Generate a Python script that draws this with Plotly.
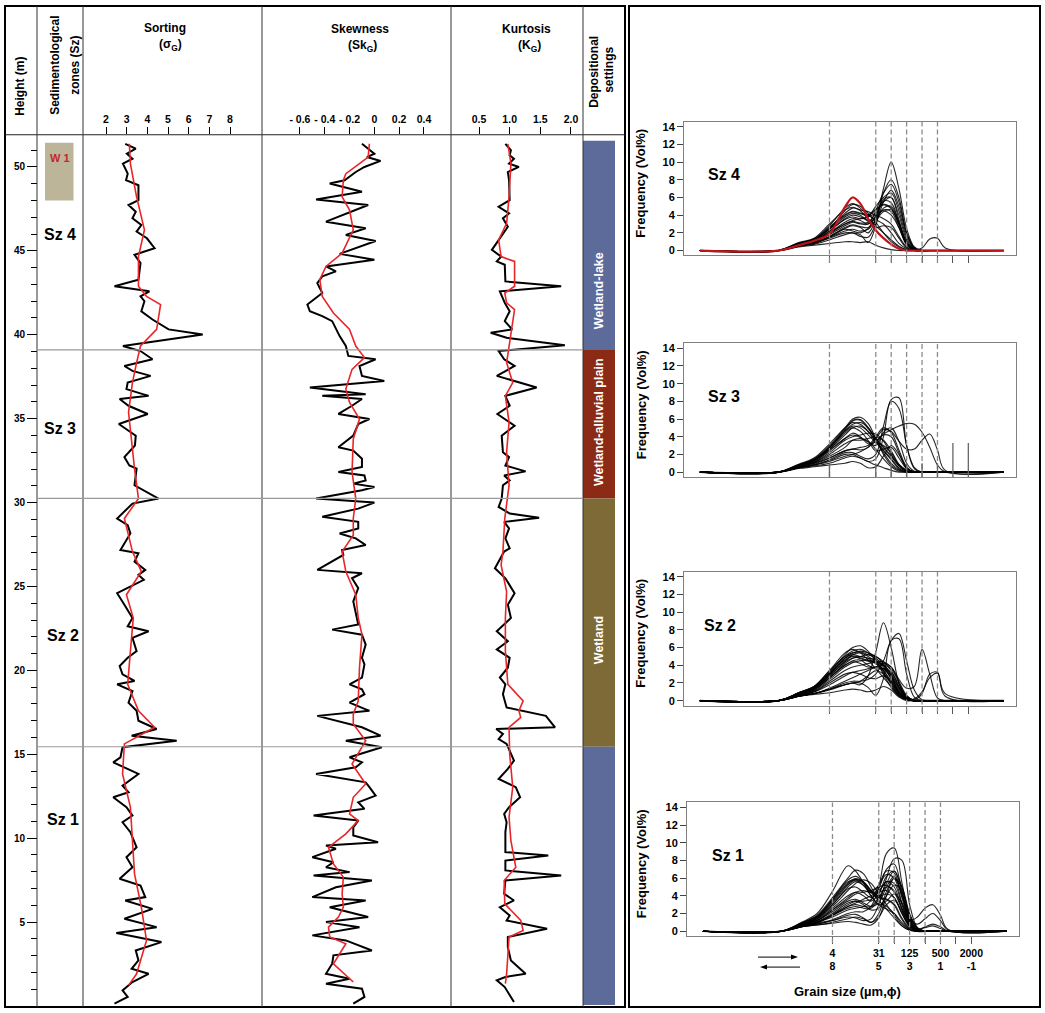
import plotly.graph_objects as go

W, H = 1045, 1013

# ---------------------------------------------------------------------------
# Left log: height (m) vs grain-size parameters (black = samples, red = trend)
# ---------------------------------------------------------------------------
sort_h = [51.38, 51.09, 50.79, 50.49, 50.20, 49.60, 49.21, 48.91, 48.02, 47.73,
          47.33, 46.94, 46.54, 46.15, 45.75, 45.16, 44.76, 44.27, 43.28, 42.89,
          42.59, 42.29, 42.00, 41.40, 40.91, 40.32, 40.02, 39.33, 39.03, 38.54,
          38.14, 37.85, 37.55, 37.15, 36.76, 36.36, 36.17, 35.77, 35.28, 34.68,
          33.99, 33.40, 32.71, 32.21, 32.02, 31.03, 30.24, 29.94, 29.05, 28.66,
          28.16, 27.77, 27.17, 26.98, 26.48, 25.99, 25.69, 25.40, 24.60, 23.91,
          23.12, 22.63, 22.33, 21.94, 21.15, 20.75, 20.26, 19.76, 19.37, 19.17,
          18.77, 18.08, 17.59, 17.00, 16.51, 16.11, 15.81, 15.42, 14.82, 14.52,
          13.83, 13.13, 12.74, 12.44, 11.85, 11.35, 10.95, 10.36, 9.46, 8.87,
          8.27, 7.58, 7.18, 6.49, 6.29, 5.79, 5.20, 4.70, 4.35, 3.81,
          3.31, 2.72, 2.22, 1.92, 1.43, 0.93, 0.54, 0.14]
sort_v = [2.93, 3.44, 3.01, 3.28, 2.82, 3.05, 2.97, 3.57, 3.57, 3.09,
          3.44, 3.28, 3.71, 3.48, 3.98, 4.35, 3.38, 3.67, 3.57, 2.41,
          4.10, 3.67, 3.86, 3.71, 4.25, 5.03, 6.68, 2.82, 3.67, 4.25,
          2.89, 3.28, 4.16, 3.05, 2.99, 4.06, 2.66, 3.09, 4.02, 2.62,
          3.44, 3.40, 2.89, 3.13, 3.48, 3.38, 4.54, 3.28, 2.54, 3.05,
          3.18, 2.99, 2.70, 3.57, 3.38, 3.90, 3.57, 3.83, 2.54, 2.89,
          3.28, 3.05, 4.06, 3.28, 3.48, 3.05, 2.66, 2.80, 3.38, 2.54,
          3.28, 3.09, 3.48, 3.57, 4.45, 3.24, 5.42, 2.80, 2.70, 2.35,
          3.57, 2.80, 3.09, 2.35, 2.99, 3.28, 2.80, 3.18, 3.48, 2.99,
          3.28, 2.66, 3.67, 3.90, 2.93, 4.25, 2.89, 4.45, 2.50, 4.68,
          3.44, 3.57, 3.24, 4.06, 3.28, 2.80, 3.05, 2.41]
sort_red_h = [51.38, 50.20, 48.22, 46.25, 44.66, 42.89, 42.29, 41.80, 40.32, 39.33,
              38.34, 37.15, 35.38, 32.02, 30.24, 29.05, 27.08, 25.89, 24.51, 23.12,
              21.15, 19.17, 17.59, 16.61, 15.62, 13.83, 11.85, 9.86, 7.88, 5.89,
              3.91, 1.92, 1.23]
sort_red_v = [3.13, 3.18, 3.48, 3.86, 3.57, 3.57, 3.96, 4.64, 4.45, 3.67,
              3.48, 3.28, 3.09, 3.38, 3.57, 2.89, 3.28, 3.71, 2.99, 3.32,
              3.18, 3.05, 3.57, 4.35, 2.89, 2.80, 3.18, 3.28, 3.38, 3.71,
              3.96, 3.48, 3.09]

skew_h = [51.38, 50.79, 50.59, 50.36, 50.00, 49.70, 49.21, 49.01, 48.52, 48.06,
          47.73, 47.13, 46.74, 46.35, 45.95, 45.59, 44.82, 44.47, 44.07, 43.78,
          43.48, 43.08, 42.49, 41.80, 41.40, 41.11, 40.81, 39.92, 39.33, 38.74,
          38.54, 38.14, 37.55, 37.25, 36.86, 36.46, 36.36, 36.17, 35.77, 35.28,
          34.98, 34.68, 33.99, 33.30, 33.10, 32.61, 32.12, 31.82, 31.62, 31.32,
          31.13, 30.93, 30.73, 30.24, 30.00, 29.64, 29.15, 28.85, 28.46, 28.16,
          27.87, 27.47, 27.17, 26.88, 25.99, 25.79, 25.49, 24.90, 24.11, 22.73,
          22.43, 22.13, 21.54, 20.75, 20.36, 19.57, 19.17, 18.87, 18.58, 18.08,
          17.59, 17.29, 16.61, 16.11, 15.81, 15.42, 14.82, 14.52, 14.23, 13.83,
          13.33, 13.04, 12.54, 12.14, 11.75, 11.35, 11.05, 10.65, 10.16, 9.76,
          9.56, 9.37, 8.87, 8.57, 8.27, 7.98, 7.78, 7.48, 7.08, 6.49,
          6.29, 5.89, 5.30, 5.00, 4.70, 4.21, 3.91, 3.31, 3.02, 2.52,
          1.92, 1.63, 1.33, 1.03, 0.54, 0.14]
skew_v = [-0.10, 0.00, -0.06, 0.05, -0.08, -0.15, -0.24, -0.36, -0.10, -0.47,
          -0.05, -0.26, -0.39, -0.07, -0.23, 0.01, -0.28, 0.00, -0.39, -0.31,
          -0.42, -0.46, -0.42, -0.54, -0.52, -0.42, -0.34, -0.28, -0.23, -0.21,
          0.01, -0.12, -0.10, 0.08, -0.52, -0.07, -0.42, -0.10, -0.18, -0.29,
          -0.04, -0.13, -0.17, -0.29, -0.17, -0.10, -0.10, -0.29, -0.08, -0.07,
          -0.17, 0.00, -0.10, -0.47, 0.00, -0.13, -0.42, -0.13, -0.13, -0.28,
          -0.15, -0.07, -0.26, -0.25, -0.46, -0.10, -0.18, -0.13, -0.17, -0.13,
          -0.34, -0.10, -0.07, -0.10, -0.08, -0.10, -0.20, -0.10, -0.08, -0.20,
          -0.04, -0.46, -0.10, 0.05, -0.23, 0.06, -0.20, -0.10, -0.15, -0.47,
          -0.07, -0.04, 0.01, -0.13, -0.08, -0.49, -0.13, -0.17, -0.17, 0.03,
          -0.39, -0.31, -0.50, -0.33, -0.39, -0.20, -0.49, -0.02, -0.31, -0.50,
          -0.07, -0.36, -0.05, -0.39, -0.12, -0.50, -0.23, -0.02, -0.33, -0.34,
          -0.39, -0.20, -0.39, -0.10, -0.08, -0.17]
skew_red_h = [51.38, 50.59, 50.20, 49.60, 49.21, 48.22, 47.43, 46.25, 44.86, 44.07,
              43.28, 42.29, 41.30, 40.32, 39.33, 38.64, 37.94, 36.76, 35.97, 34.98,
              33.79, 31.82, 30.24, 29.05, 28.06, 27.08, 25.89, 24.51, 23.12, 22.13,
              20.16, 18.18, 17.39, 16.81, 15.81, 14.42, 13.23, 12.44, 11.45, 11.05,
              10.26, 9.46, 8.47, 7.68, 6.69, 5.89, 5.30, 4.70, 4.11, 3.71,
              2.52, 1.43]
skew_red_v = [-0.04, -0.05, -0.12, -0.23, -0.25, -0.26, -0.20, -0.17, -0.26, -0.39,
              -0.44, -0.42, -0.33, -0.20, -0.15, -0.08, -0.18, -0.23, -0.20, -0.12,
              -0.17, -0.18, -0.15, -0.17, -0.17, -0.26, -0.23, -0.15, -0.13, -0.10,
              -0.12, -0.13, -0.17, -0.17, -0.07, -0.18, -0.07, -0.17, -0.20, -0.13,
              -0.23, -0.37, -0.33, -0.25, -0.26, -0.25, -0.29, -0.37, -0.36, -0.23,
              -0.33, -0.17]

kurt_h = [51.38, 50.99, 50.69, 50.49, 50.20, 50.00, 49.70, 49.21, 48.02, 47.63,
          47.23, 46.94, 46.44, 45.06, 44.66, 44.37, 44.17, 43.18, 42.89, 42.59,
          41.90, 41.40, 40.81, 40.32, 40.12, 39.82, 39.37, 39.03, 38.54, 38.14,
          37.55, 36.86, 36.36, 35.77, 35.28, 34.58, 33.99, 33.00, 32.71, 32.21,
          31.86, 31.62, 31.32, 31.03, 30.24, 29.74, 29.35, 29.09, 28.85, 28.46,
          27.87, 27.27, 27.08, 26.48, 26.09, 25.49, 24.60, 23.91, 23.12, 22.33,
          21.74, 21.25, 20.75, 20.16, 19.57, 19.17, 18.58, 17.79, 17.29, 16.61,
          16.51, 16.21, 15.91, 15.62, 14.62, 14.13, 13.53, 13.04, 12.44, 11.85,
          11.45, 10.95, 10.36, 9.17, 8.97, 8.67, 8.08, 7.78, 7.48, 6.69,
          6.29, 5.89, 5.40, 5.10, 4.60, 4.11, 3.51, 2.72, 1.92, 1.73,
          1.53, 1.13, 0.24]
kurt_v = [0.93, 1.02, 1.00, 1.07, 0.99, 1.15, 0.97, 0.99, 1.00, 0.82,
          0.99, 0.89, 0.97, 0.71, 0.86, 0.79, 0.92, 0.93, 1.84, 0.84,
          0.92, 1.00, 0.92, 1.04, 0.69, 0.95, 1.90, 0.82, 0.91, 1.08,
          0.79, 1.44, 0.93, 1.00, 0.80, 1.08, 0.87, 0.89, 0.99, 0.93,
          1.26, 0.91, 1.00, 0.89, 0.87, 0.82, 1.00, 1.48, 0.91, 0.99,
          0.93, 1.00, 0.91, 0.82, 0.76, 0.93, 1.08, 0.97, 1.02, 0.79,
          0.97, 0.79, 1.00, 0.97, 0.84, 0.93, 0.89, 0.95, 1.59, 1.74,
          0.78, 0.89, 0.82, 0.95, 1.07, 0.97, 0.82, 1.10, 1.17, 0.99,
          0.91, 0.95, 0.93, 0.93, 1.63, 0.93, 0.93, 1.84, 0.93, 0.91,
          1.07, 0.84, 1.00, 0.95, 1.61, 0.97, 0.97, 1.02, 1.26, 0.93,
          0.79, 0.92, 1.07]
kurt_red_h = [51.38, 50.20, 48.22, 46.64, 45.65, 44.66, 44.37, 42.89, 42.49, 41.90,
              41.50, 39.92, 39.13, 38.34, 37.15, 36.36, 34.78, 33.00, 31.03, 29.05,
              27.08, 26.28, 24.70, 23.12, 21.15, 19.17, 18.18, 17.59, 17.20, 16.61,
              15.02, 13.04, 11.25, 9.86, 8.27, 7.48, 6.09, 5.10, 4.50, 4.11,
              1.92, 1.33]
kurt_red_v = [0.97, 1.02, 0.99, 0.95, 0.82, 0.86, 1.08, 1.08, 0.92, 0.95,
              1.08, 1.02, 0.99, 0.95, 1.05, 0.93, 0.99, 0.95, 0.99, 0.92,
              0.89, 0.86, 0.95, 0.93, 0.93, 0.97, 1.22, 1.15, 1.18, 0.99,
              1.00, 1.05, 0.99, 1.02, 1.10, 0.91, 0.92, 1.18, 1.22, 0.99,
              0.95, 0.93]

sort_ticks = [2, 3, 4, 5, 6, 7, 8]
skew_ticks = [-0.6, -0.4, -0.2, 0, 0.2, 0.4]
skew_tick_text = ['- 0.6', '- 0.4', '- 0.2', '0', '0.2', '0.4']
kurt_ticks = [0.5, 1.0, 1.5, 2.0]
kurt_tick_text = ['0.5', '1.0', '1.5', '2.0']

# zones / depositional settings (height limits in m)
zone_names = ['Sz 4', 'Sz 3', 'Sz 2', 'Sz 1']
zone_label_h = [46.0, 34.4, 22.1, 11.1]
zone_bounds = [39.1, 30.25, 15.45]
setting_top = [51.56, 39.1, 30.25, 15.45]
setting_bottom = [39.1, 30.25, 15.45, 0.06]
setting_colors = ['#5D6B9B', '#8B2B16', '#7E6A37', '#5D6B9B']
setting_names = ['Wetland-lake', 'Wetland-alluvial plain', 'Wetland', '']
setting_label_h = [42.6, 34.8, 21.8, 7.0]
w1_bottom, w1_top = 48.0, 51.45

# ---------------------------------------------------------------------------
# Right: grain-size distribution curves, x in phi units, y = Vol%
# ---------------------------------------------------------------------------
phi = [16.4, 11.3, 10.0, 9.0, 8.0, 7.0, 6.5, 6.0, 5.5, 5.0,
       4.5, 4.0, 3.5, 3.0, 2.5, 2.0, 1.5, 1.0, 0.5, -3.3]

sz4_curves = [
    [0, 0, 0.7, 1.2, 2.5, 4.5, 5.2, 5.0, 4.2, 3.2, 2.0, 1.0, 0.4, 0.1, 0, 0, 0, 0, 0, 0],
    [0, 0, 0.8, 1.3, 2.8, 4.8, 5.3, 4.8, 4.0, 3.5, 3.0, 2.0, 0.8, 0.2, 0, 0, 0, 0, 0, 0],
    [0, 0, 0.5, 0.8, 1.5, 2.5, 2.8, 2.6, 2.0, 3.5, 7.0, 10.0, 7.0, 2.5, 0.4, 0, 0, 0, 0, 0],
    [0, 0, 0.6, 1.0, 1.8, 2.8, 3.2, 3.0, 3.0, 4.5, 6.5, 7.5, 5.5, 2.0, 0.3, 0, 0, 0, 0, 0],
    [0, 0, 0.7, 1.1, 2.2, 3.5, 3.8, 3.6, 3.8, 5.0, 6.0, 6.5, 4.5, 1.5, 0.2, 0, 0, 0, 0, 0],
    [0, 0, 0.6, 0.9, 1.6, 2.4, 2.2, 2.0, 2.5, 4.0, 5.5, 6.0, 4.0, 1.2, 0.2, 0, 0, 0, 0, 0],
    [0, 0, 0.8, 1.2, 2.6, 4.0, 4.4, 4.2, 4.0, 4.6, 5.2, 4.8, 3.0, 0.8, 0.1, 0, 0, 0, 0, 0],
    [0, 0, 0.5, 0.7, 1.2, 1.8, 2.0, 1.6, 1.5, 3.0, 5.5, 6.8, 5.0, 1.8, 0.3, 0, 0, 0, 0, 0],
    [0, 0, 0.4, 0.6, 0.8, 1.0, 1.0, 0.9, 1.0, 0.6, 0.3, 0.1, 0, 0, 0, 0, 0, 0, 0, 0],
    [0, 0, 0.7, 1.0, 2.0, 3.2, 3.6, 3.4, 3.0, 3.8, 5.8, 6.0, 3.5, 0.8, 0.1, 0, 0, 0, 0, 0],
    [0, 0, 0.6, 0.9, 1.5, 2.2, 2.4, 2.2, 2.4, 3.5, 4.8, 5.0, 3.2, 1.0, 0.2, 0.3, 1.3, 1.4, 0.3, 0],
    [0, 0, 0.9, 1.4, 3.0, 4.6, 4.9, 4.5, 3.6, 2.8, 2.0, 1.2, 0.5, 0.1, 0, 0, 0, 0, 0, 0],
    [0, 0, 0.7, 1.0, 2.0, 3.0, 3.4, 3.6, 3.8, 4.2, 4.5, 4.0, 2.6, 0.8, 0.1, 0, 0, 0, 0, 0],
    [0, 0, 0.5, 0.8, 1.4, 2.0, 2.0, 1.8, 0.9, 2.8, 6.5, 8.0, 6.0, 2.0, 0.3, 0, 0, 0, 0, 0],
    [0, 0, 0.6, 0.9, 1.6, 2.6, 2.9, 2.7, 2.6, 3.4, 4.4, 4.6, 3.0, 0.9, 0.1, 0, 0, 0, 0, 0],
    [0, 0, 0.8, 1.3, 2.4, 3.8, 4.2, 4.0, 3.3, 2.6, 2.8, 2.6, 1.4, 0.3, 0, 0, 0, 0, 0, 0],
    [0, 0, 0.7, 1.1, 2.2, 3.6, 4.0, 3.8, 3.4, 3.6, 4.6, 4.4, 2.6, 0.6, 0, 0, 0, 0, 0, 0],
    [0, 0, 0.6, 1.0, 1.9, 3.0, 3.3, 3.1, 3.2, 4.2, 5.6, 5.4, 3.2, 0.8, 0.1, 0, 0, 0, 0, 0],
    [0, 0, 0.8, 1.2, 2.4, 4.2, 4.8, 4.6, 4.4, 4.0, 3.6, 3.0, 1.6, 0.4, 0, 0, 0, 0, 0, 0],
]
sz4_red = [0, 0, 0.6, 1.1, 1.9, 4.9, 6.0, 5.3, 3.6, 2.3, 1.4, 0.7, 0.2, 0, 0, 0, 0, 0, 0, 0]

sz3_curves = [
    [0, 0, 0.8, 1.5, 3.0, 5.0, 6.0, 6.2, 5.5, 3.8, 2.0, 0.8, 0.2, 0, 0, 0, 0, 0, 0, 0],
    [0, 0, 0.7, 1.3, 2.8, 4.6, 5.4, 5.6, 5.0, 3.6, 2.2, 1.0, 0.3, 0, 0, 0, 0, 0, 0, 0],
    [0, 0, 0.9, 1.6, 3.2, 5.0, 5.6, 5.4, 4.6, 3.5, 2.5, 1.5, 0.5, 0.1, 0, 0, 0, 0, 0, 0],
    [0, 0, 0.6, 1.1, 2.2, 3.6, 4.0, 4.2, 4.4, 4.3, 3.5, 2.0, 0.7, 0.1, 0, 0, 0, 0, 0, 0],
    [0, 0, 0.7, 1.2, 2.5, 3.8, 4.2, 3.9, 3.4, 3.0, 4.5, 5.0, 3.5, 1.0, 0.1, 0, 0, 0, 0, 0],
    [0, 0, 0.5, 0.8, 1.3, 2.0, 2.0, 1.6, 1.2, 1.5, 4.0, 8.2, 8.4, 3.0, 0.4, 0, 0, 0, 0, 0],
    [0, 0, 0.5, 0.8, 1.2, 1.8, 2.0, 2.3, 2.8, 3.5, 4.3, 4.8, 5.2, 5.5, 5.4, 4.5, 2.8, 0.8, 0, 0],
    [0, 0, 0.6, 1.0, 1.6, 2.4, 2.6, 2.5, 2.8, 3.8, 4.8, 4.6, 3.5, 2.6, 2.6, 3.6, 4.3, 2.5, 0.2, 0],
    [0, 0, 0.8, 1.4, 2.8, 4.8, 5.8, 5.9, 5.0, 3.8, 2.8, 1.8, 0.8, 0.2, 0, 0, 0, 0, 0, 0],
    [0, 0, 0.6, 1.0, 1.8, 2.8, 3.6, 3.8, 3.5, 2.6, 1.5, 0.6, 0.1, 0, 0, 0, 0, 0, 0, 0],
    [0, 0, 0.5, 0.7, 1.0, 1.6, 1.8, 1.6, 1.2, 0.8, 0.5, 0.2, 0, 0, 0, 0, 0, 0, 0, 0],
    [0, 0, 0.4, 0.6, 0.8, 1.0, 1.2, 1.0, 0.5, 0.6, 1.8, 3.0, 2.0, 0.4, 0, 0, 0, 0, 0, 0],
    [0, 0, 0.7, 1.2, 2.4, 3.8, 4.4, 4.0, 3.2, 3.4, 4.2, 4.0, 2.2, 0.5, 0, 0, 0, 0, 0, 0],
    [0, 0, 0.8, 1.4, 2.6, 4.4, 5.0, 4.6, 3.6, 2.4, 2.6, 2.8, 1.6, 0.4, 0, 0, 0, 0, 0, 0],
    [0, 0, 0.5, 0.9, 1.6, 2.4, 2.6, 2.8, 3.0, 4.0, 5.0, 4.5, 2.5, 0.6, 0, 0, 0, 0, 0, 0],
    [0, 0, 0.5, 0.8, 1.4, 2.2, 2.2, 1.8, 1.5, 2.0, 5.2, 8.0, 7.2, 3.0, 0.5, 0, 0, 0, 0, 0],
    [0, 0, 0.7, 1.3, 2.6, 4.2, 5.0, 5.2, 4.6, 3.4, 2.4, 1.4, 0.4, 0, 0, 0, 0, 0, 0, 0],
    [0, 0, 0.8, 1.4, 2.8, 4.6, 5.2, 5.0, 4.2, 3.4, 3.0, 2.2, 0.8, 0.1, 0, 0, 0, 0, 0, 0],
    [0, 0, 0.6, 1.1, 2.0, 3.2, 3.6, 3.6, 3.8, 4.0, 3.6, 2.4, 0.9, 0.1, 0, 0, 0, 0, 0, 0],
]

sz2_curves = [
    [0, 0, 0.8, 1.5, 3.2, 5.2, 6.0, 6.2, 5.6, 4.5, 3.0, 1.5, 0.5, 0.1, 0, 0, 0, 0, 0, 0],
    [0, 0, 0.9, 1.6, 3.4, 5.0, 5.4, 5.5, 5.2, 4.8, 4.0, 2.4, 0.8, 0.2, 0, 0, 0, 0, 0, 0],
    [0, 0, 0.7, 1.3, 2.8, 4.4, 4.8, 5.0, 5.2, 5.0, 4.2, 2.8, 1.0, 0.2, 0, 0, 0, 0, 0, 0],
    [0, 0, 0.8, 1.4, 3.0, 4.6, 5.0, 4.8, 4.5, 4.4, 4.0, 3.0, 1.4, 0.3, 0, 0, 0, 0, 0, 0],
    [0, 0, 0.6, 1.1, 2.4, 3.8, 4.3, 4.5, 4.6, 4.2, 3.4, 2.2, 0.9, 0.2, 0, 0, 0, 0, 0, 0],
    [0, 0, 0.7, 1.2, 2.6, 4.0, 4.5, 4.6, 4.0, 3.6, 3.6, 3.2, 1.8, 0.5, 0, 0, 0, 0, 0, 0],
    [0, 0, 0.5, 0.8, 1.2, 1.8, 2.0, 1.8, 2.8, 5.5, 8.8, 6.0, 2.0, 0.3, 0, 0, 0, 0, 0, 0],
    [0, 0, 0.5, 0.8, 1.3, 1.8, 2.0, 2.0, 1.5, 0.6, 2.5, 6.8, 7.0, 3.0, 0.4, 0, 0, 0, 0, 0],
    [0, 0, 0.5, 0.8, 1.3, 2.0, 2.2, 2.2, 2.4, 3.0, 4.5, 6.8, 7.6, 4.5, 1.2, 0.1, 0, 0, 0, 0],
    [0, 0, 0.5, 0.8, 1.4, 2.2, 2.6, 3.0, 3.4, 3.8, 4.2, 3.8, 2.4, 1.4, 1.6, 5.8, 3.0, 0.3, 0, 0],
    [0, 0, 0.6, 1.0, 1.8, 2.8, 3.2, 3.4, 3.6, 3.8, 3.6, 2.8, 1.5, 0.4, 0.1, 0.8, 3.0, 3.2, 0.5, 0],
    [0, 0, 0.5, 0.8, 1.3, 1.8, 2.0, 2.2, 2.8, 3.4, 3.0, 2.0, 0.8, 0.2, 0.2, 1.0, 2.6, 3.1, 0.8, 0],
    [0, 0, 0.5, 0.7, 0.9, 1.2, 1.3, 1.2, 1.0, 1.2, 1.6, 1.2, 0.4, 0, 0, 0, 0, 0, 0, 0],
    [0, 0, 0.9, 1.6, 3.4, 5.4, 5.8, 5.4, 4.6, 3.6, 2.6, 1.6, 0.6, 0.1, 0, 0, 0, 0, 0, 0],
    [0, 0, 0.6, 1.0, 2.0, 3.0, 3.2, 3.0, 2.6, 2.5, 2.8, 2.2, 1.0, 0.2, 0, 0, 0, 0, 0, 0],
    [0, 0, 0.8, 1.4, 2.8, 4.4, 5.2, 5.4, 5.0, 4.4, 3.2, 1.8, 0.6, 0.1, 0, 0, 0, 0, 0, 0],
    [0, 0, 0.7, 1.3, 2.6, 4.0, 4.4, 4.2, 3.8, 3.8, 4.0, 3.6, 2.0, 0.5, 0, 0, 0, 0, 0, 0],
    [0, 0, 0.8, 1.5, 3.0, 4.8, 5.4, 5.6, 5.4, 5.0, 4.4, 3.4, 1.6, 0.4, 0, 0, 0, 0, 0, 0],
    [0, 0, 0.8, 1.4, 3.0, 4.8, 5.2, 5.0, 4.8, 4.6, 3.8, 2.6, 1.0, 0.2, 0, 0, 0, 0, 0, 0],
    [0, 0, 0.7, 1.2, 2.6, 4.2, 4.8, 5.0, 4.8, 4.2, 3.6, 2.6, 1.2, 0.3, 0, 0, 0, 0, 0, 0],
    [0, 0, 0.9, 1.6, 3.2, 5.0, 5.6, 5.8, 5.4, 4.6, 3.4, 2.0, 0.6, 0.1, 0, 0, 0, 0, 0, 0],
    [0, 0, 0.6, 1.0, 2.2, 3.4, 3.8, 4.0, 4.2, 4.4, 4.4, 3.8, 2.2, 0.6, 0, 0, 0, 0, 0, 0],
]

sz1_curves = [
    [0, 0, 1.0, 2.0, 4.5, 7.4, 6.8, 5.5, 4.0, 3.0, 2.5, 2.0, 1.0, 0.2, 0, 0, 0, 0, 0, 0],
    [0, 0, 0.9, 1.8, 3.8, 6.0, 6.9, 6.5, 5.0, 3.5, 2.5, 1.5, 0.6, 0.1, 0, 0, 0, 0, 0, 0],
    [0, 0, 0.8, 1.5, 3.2, 5.2, 5.8, 5.6, 4.6, 3.4, 2.8, 2.0, 0.8, 0.2, 0, 0, 0, 0, 0, 0],
    [0, 0, 0.9, 1.6, 3.4, 5.4, 5.9, 5.5, 4.4, 3.8, 3.6, 3.0, 1.4, 0.3, 0, 0, 0, 0, 0, 0],
    [0, 0, 0.5, 0.9, 1.3, 2.0, 2.2, 2.2, 2.8, 5.0, 8.8, 9.4, 5.5, 1.5, 0.2, 0, 0, 0, 0, 0],
    [0, 0, 0.5, 0.8, 1.2, 1.6, 1.5, 1.2, 1.4, 3.0, 6.0, 8.2, 8.0, 3.0, 0.4, 0, 0, 0, 0, 0],
    [0, 0, 0.6, 1.0, 1.6, 2.4, 2.6, 2.8, 3.5, 5.2, 6.8, 6.6, 3.8, 1.0, 0.1, 0, 0, 0, 0, 0],
    [0, 0, 0.6, 1.0, 1.8, 2.8, 3.0, 2.8, 2.8, 3.8, 5.0, 4.6, 2.6, 1.2, 1.6, 2.6, 3.0, 1.8, 0.2, 0],
    [0, 0, 0.5, 0.8, 1.2, 1.8, 1.9, 1.5, 1.0, 2.0, 4.5, 6.0, 4.2, 1.4, 0.8, 1.4, 2.0, 1.2, 0.1, 0],
    [0, 0, 0.5, 0.7, 1.0, 1.4, 1.6, 1.4, 1.0, 1.6, 3.0, 3.5, 2.2, 0.6, 0.2, 0.5, 0.8, 0.5, 0, 0],
    [0, 0, 0.7, 1.2, 2.4, 3.6, 4.2, 4.4, 4.6, 5.0, 5.2, 4.4, 2.4, 0.6, 0, 0, 0, 0, 0, 0],
    [0, 0, 0.8, 1.3, 2.6, 4.0, 4.4, 4.0, 3.4, 4.2, 6.2, 6.8, 4.4, 1.2, 0.1, 0, 0, 0, 0, 0],
    [0, 0, 0.6, 1.0, 1.8, 2.8, 3.2, 3.6, 4.0, 4.4, 4.6, 3.8, 2.0, 0.6, 0.2, 0.4, 0.6, 0.3, 0, 0],
    [0, 0, 0.9, 1.6, 3.6, 5.6, 5.8, 5.2, 4.0, 3.0, 3.4, 4.2, 3.2, 1.0, 0.1, 0, 0, 0, 0, 0],
    [0, 0, 0.7, 1.1, 2.0, 3.2, 3.4, 3.0, 2.4, 2.6, 4.0, 5.2, 4.6, 1.8, 0.3, 0, 0, 0, 0, 0],
    [0, 0, 0.5, 0.7, 0.9, 1.1, 1.0, 0.8, 0.7, 1.5, 4.0, 6.0, 5.0, 2.0, 0.4, 0, 0, 0, 0, 0],
    [0, 0, 0.8, 1.4, 2.8, 4.6, 5.4, 5.8, 5.4, 4.2, 3.0, 1.8, 0.6, 0.1, 0, 0, 0, 0, 0, 0],
    [0, 0, 0.6, 1.0, 1.9, 3.0, 3.4, 3.4, 3.6, 4.8, 7.0, 7.6, 4.6, 1.4, 0.2, 0, 0, 0, 0, 0],
    [0, 0, 0.7, 1.2, 2.2, 3.4, 3.6, 3.2, 2.8, 3.2, 5.0, 6.2, 4.0, 1.2, 0.1, 0, 0, 0, 0, 0],
    [0, 0, 0.8, 1.5, 3.0, 4.8, 5.0, 4.4, 3.8, 4.4, 5.6, 5.0, 2.6, 0.6, 0, 0, 0, 0, 0, 0],
    [0, 0, 0.8, 1.4, 3.0, 5.0, 5.6, 5.2, 4.4, 4.6, 5.6, 5.4, 3.0, 0.8, 0, 0, 0, 0, 0, 0],
    [0, 0, 0.7, 1.2, 2.4, 3.8, 4.4, 4.6, 4.4, 5.2, 6.4, 6.0, 3.2, 0.8, 0, 0, 0, 0, 0, 0],
    [0, 0, 0.9, 1.7, 3.6, 5.8, 6.2, 5.6, 4.6, 4.0, 4.2, 3.8, 2.0, 0.5, 0, 0, 0, 0, 0, 0],
    [0, 0, 0.6, 1.0, 1.8, 2.6, 2.8, 2.6, 2.6, 3.6, 5.4, 6.8, 5.0, 1.8, 0.3, 0, 0, 0, 0, 0],
]

gs_tick_phi = [8, 5, 3, 1, -1]            # labelled ticks (phi)
gs_tick_um = ['4', '31', '125', '500', '2000']
gs_tick_phi_text = ['8', '5', '3', '1', '-1']
gs_minor_phi = [4, 2, 0]                  # unlabelled ticks
gs_dash_phi = [8, 5, 4, 3, 2, 1]
sz3_tick_phi = [8, 5, 4, 3, 2, 1, 0, -1]
sz3_tick_top = [1.0, 1.0, 1.0, 1.0, 1.0, 1.0, 3.3, 3.3]
freq_ticks = [0, 2, 4, 6, 8, 10, 12, 14]


def px(x):
    return x / W


def py(y):
    return (H - y) / H


BOLD = dict(weight='bold')
FONT = 'Liberation Sans, Arial, sans-serif'

fig = go.Figure()

# left log traces
for xs, ys, xa, col, wd in [
    (sort_v, sort_h, 'x', 'black', 2.0),
    (sort_red_v, sort_red_h, 'x', '#E8262A', 1.6),
    (skew_v, skew_h, 'x2', 'black', 2.0),
    (skew_red_v, skew_red_h, 'x2', '#E8262A', 1.6),
    (kurt_v, kurt_h, 'x3', 'black', 2.0),
    (kurt_red_v, kurt_red_h, 'x3', '#E8262A', 1.6),
]:
    fig.add_trace(go.Scatter(x=xs, y=ys, xaxis=xa, yaxis='y', mode='lines',
                             line=dict(color=col, width=wd), hoverinfo='skip'))

# grain-size panels: (curves, axis number, bold curve index)
panels = [(sz4_curves, 4, 6), (sz3_curves, 5, 8), (sz2_curves, 6, 3), (sz1_curves, 7, 3)]
for curves, n, bold_i in panels:
    for i, c in enumerate(curves):
        fig.add_trace(go.Scatter(
            x=phi, y=c, xaxis=f'x{n}', yaxis=f'y{n}', mode='lines',
            line=dict(color='rgba(0,0,0,0.85)', width=1.8 if i == bold_i else 1.1,
                      shape='spline', smoothing=1.0),
            hoverinfo='skip'))
fig.add_trace(go.Scatter(x=phi, y=sz4_red, xaxis='x4', yaxis='y4', mode='lines',
                         line=dict(color='#C0141C', width=2.2, shape='spline', smoothing=1.0),
                         hoverinfo='skip'))

layout = dict(
    width=W, height=H, margin=dict(l=0, r=0, t=0, b=0),
    paper_bgcolor='white', plot_bgcolor='white', showlegend=False, hovermode=False,
    font=dict(family=FONT, color='black'),
    yaxis=dict(domain=[py(1006), py(134)], range=[0.06, 51.92], anchor='free',
               position=px(37), side='left', tickmode='linear', tick0=0, dtick=5,
               ticks='outside', ticklen=10, tickcolor='black',
               minor=dict(dtick=1, ticks='outside', ticklen=6, tickcolor='black'),
               showgrid=False, zeroline=False, showline=False,
               tickfont=dict(size=10, **BOLD)),
    xaxis=dict(domain=[px(83), px(262)], range=[0.887, 9.548], side='top', anchor='y',
               tickvals=sort_ticks, ticks='outside', ticklen=7, tickcolor='black',
               showgrid=False, zeroline=False, tickfont=dict(size=10.5, **BOLD)),
    xaxis2=dict(domain=[px(262), px(451)], range=[-0.906, 0.618], side='top', anchor='y',
                tickvals=skew_ticks, ticktext=skew_tick_text, ticks='outside', ticklen=7,
                tickcolor='black', showgrid=False, zeroline=False,
                tickfont=dict(size=10.5, **BOLD)),
    xaxis3=dict(domain=[px(451), px(583)], range=[0.043, 2.196], side='top', anchor='y',
                tickvals=kurt_ticks, ticktext=kurt_tick_text, ticks='outside', ticklen=7,
                tickcolor='black', showgrid=False, zeroline=False,
                tickfont=dict(size=10.5, **BOLD)),
)

# pixel frames of the four grain-size panels (top, bottom, left, right)
frames = {4: (121, 255, 684, 1016), 5: (343, 477, 684, 1016),
          6: (572, 706, 684, 1016), 7: (803, 937, 687, 1019)}
for n, (t, b, l, r) in frames.items():
    outside = n != 5
    xa = dict(domain=[px(l), px(r)], range=[17.43, -4.09], anchor=f'y{n}',
              showgrid=False, zeroline=False, showline=True, mirror=True,
              linecolor='#808080', linewidth=1, tickvals=gs_tick_phi,
              ticks='outside' if outside else '', ticklen=7, tickcolor='#555555',
              minor=dict(tickvals=gs_minor_phi, ticks='outside' if outside else '',
                         ticklen=7, tickcolor='#555555'),
              showticklabels=(n == 7))
    if n == 7:
        xa['ticktext'] = [f'{a}<br>{b_}' for a, b_ in zip(gs_tick_um, gs_tick_phi_text)]
        xa['tickfont'] = dict(size=10.5, **BOLD)
    layout[f'xaxis{n}'] = xa
    layout[f'yaxis{n}'] = dict(domain=[py(b), py(t)], range=[-0.56, 14.56], anchor=f'x{n}',
                               tickvals=freq_ticks, ticks='outside', ticklen=6,
                               tickcolor='#444444', showgrid=False, zeroline=False,
                               showline=True, mirror=True, linecolor='#808080', linewidth=1,
                               tickfont=dict(size=11, **BOLD))
fig.update_layout(**layout)

shapes = []
# outer borders
shapes.append(dict(type='rect', xref='paper', yref='paper', x0=px(5), x1=px(625),
                   y0=py(1008), y1=py(5), line=dict(color='black', width=2)))
shapes.append(dict(type='rect', xref='paper', yref='paper', x0=px(629), x1=px(1040),
                   y0=py(1008), y1=py(5), line=dict(color='black', width=2)))
# header line and column separators
shapes.append(dict(type='line', xref='paper', yref='paper', x0=px(5), x1=px(625),
                   y0=py(134), y1=py(134), line=dict(color='#222222', width=1.2)))
for xc in [37, 83, 262, 451, 583]:
    shapes.append(dict(type='line', xref='paper', yref='paper', x0=px(xc), x1=px(xc),
                       y0=py(1008), y1=py(5), line=dict(color='#333333', width=1)))
# zone boundaries
for hb in zone_bounds:
    shapes.append(dict(type='line', xref='paper', yref='y', x0=px(37), x1=px(583),
                       y0=hb, y1=hb, line=dict(color='#9a9a9a', width=1.2)))
# depositional settings bars
for top, bot, col in zip(setting_top, setting_bottom, setting_colors):
    shapes.append(dict(type='rect', xref='paper', yref='y', x0=px(583), x1=px(615),
                       y0=bot, y1=top, fillcolor=col, line=dict(width=0), layer='below'))
# W1 box
shapes.append(dict(type='rect', xref='paper', yref='y', x0=px(45), x1=px(73.5),
                   y0=w1_bottom, y1=w1_top, fillcolor='#BDB59A', line=dict(width=0),
                   layer='below'))
# dashed grain-size class lines
for n in frames:
    for p in gs_dash_phi:
        shapes.append(dict(type='line', xref=f'x{n}', yref=f'y{n} domain', x0=p, x1=p,
                           y0=0 if n == 5 else -0.052, y1=1,
                           line=dict(color='#8c8c8c', width=1.3, dash='5px,3px')))
# inward ticks drawn in the Sz 3 panel
for p, top in zip(sz3_tick_phi, sz3_tick_top):
    shapes.append(dict(type='line', xref='x5', yref='y5', x0=p, x1=p, y0=-0.56, y1=top,
                       line=dict(color='#666666', width=1.3)))
# direction arrows under the grain-size axis (shaft + head)
for x0, x1, ya in [(758, 798, 958), (800, 760, 968)]:
    d = 1 if x1 > x0 else -1
    shapes.append(dict(type='line', xref='paper', yref='paper', x0=px(x0), x1=px(x1 - 5 * d),
                       y0=py(ya), y1=py(ya), line=dict(color='black', width=1)))
    shapes.append(dict(type='path', xref='paper', yref='paper',
                       path=f'M {px(x1)},{py(ya)} L {px(x1 - 7 * d)},{py(ya - 2.5)} '
                            f'L {px(x1 - 7 * d)},{py(ya + 2.5)} Z',
                       fillcolor='black', line=dict(width=0)))
fig.update_layout(shapes=shapes)


def ann(text, x, y, size, xref='paper', yref='paper', color='black', angle=0):
    return dict(text=f'<b>{text}</b>', x=x, y=y, xref=xref, yref=yref, showarrow=False,
                xanchor='center', yanchor='middle', textangle=angle,
                font=dict(size=size, color=color, family=FONT))


anns = [
    ann('Height (m)', px(20), py(86), 12, angle=-90),
    ann('Sedimentological', px(55), py(65), 12, angle=-90),
    ann('zones (Sz)', px(75), py(65), 12, angle=-90),
    ann('Sorting', px(165), py(27), 12),
    ann('(σ<sub>G</sub>)', px(170), py(44), 12),
    ann('Skewness', px(359.5), py(28), 12),
    ann('(Sk<sub>G</sub>)', px(362), py(45), 12),
    ann('Kurtosis', px(526), py(28), 12),
    ann('(K<sub>G</sub>)', px(529), py(45), 12),
    ann('Depositional', px(594), py(71), 12, angle=-90),
    ann('settings', px(609), py(69), 12, angle=-90),
    ann('W 1', px(60), 50.55, 11, yref='y', color='#C1272D'),
    ann('Grain size (µm,ϕ)', px(847), py(992), 13),
]
for name, hz, xz in zip(zone_names, zone_label_h, [60, 60, 63, 63]):
    anns.append(ann(name, px(xz), hz, 16, yref='y'))
for name, hz in zip(setting_names, setting_label_h):
    if name:
        anns.append(ann(name, px(599), hz, 12.5, yref='y', color='white', angle=-90))
for n, (t, b, l, r) in frames.items():
    anns.append(ann('Frequency (Vol%)', px(641), py((t + b) / 2 - 5), 13, angle=-90))
for name, n, xx in zip(['Sz 4', 'Sz 3', 'Sz 2', 'Sz 1'], [4, 5, 6, 7], [14.86, 14.85, 15.1, 14.76]):
    anns.append(ann(name, xx, 8.55, 16, xref=f'x{n}', yref=f'y{n}'))
fig.update_layout(annotations=anns)

# the page body has a default 8px margin; drop it so the figure fills the window
fig.write_html("out.html", config={'displayModeBar': False},
               post_script="document.body.style.margin='0px';")
